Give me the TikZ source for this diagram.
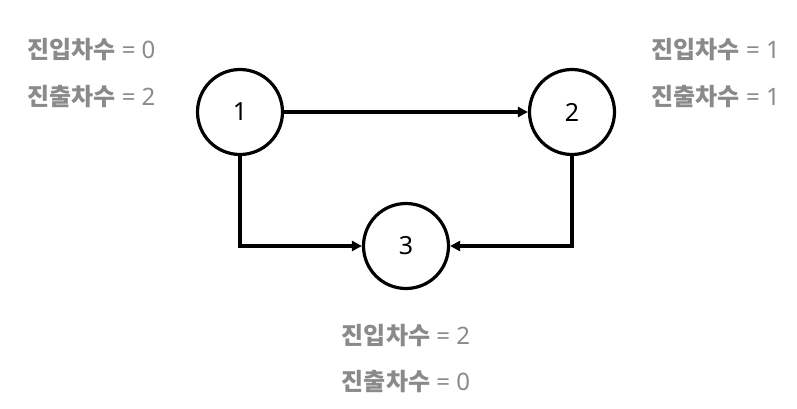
\documentclass[tikz,border=0pt]{standalone}
\usepackage{fontspec}
\setmainfont{Noto Sans}
\newfontfamily\kr{Noto Sans CJK KR}
\usetikzlibrary{arrows.meta}
\definecolor{lbl}{HTML}{8A8A8A}
\newcommand{\degtxt}[2]{{\kr\bfseries #1} = #2}
\begin{document}
\begin{tikzpicture}[x=1pt,y=-1pt,
  vtx/.style={circle,draw=black,line width=3.2pt,minimum size=85pt,inner sep=0pt,font=\fontsize{25}{28}\selectfont},
  edge/.style={line width=3.2pt,-{Triangle[length=10pt,width=10pt]}},
  deg/.style={text=lbl,inner sep=0pt,font=\fontsize{24}{27}\selectfont}]
\useasboundingbox (0,0) rectangle (797,409);
\node[vtx] (n1) at (240,112) {1};
\node[vtx] (n2) at (572,112) {2};
\node[vtx] (n3) at (406,246) {3};
\draw[edge] (n1) -- (n2);
\draw[edge] (n1.south) |- (n3.west);
\draw[edge] (n2.south) |- (n3.east);
\node[deg,anchor=west] (l1) at (27,50) {\degtxt{진입차수}{0}};
\node[deg,anchor=west] (l2) at (27,97) {\degtxt{진출차수}{2}};
\node[deg,anchor=east] (r1) at (780,50) {\degtxt{진입차수}{1}};
\node[deg,anchor=east] (r2) at (780,97) {\degtxt{진출차수}{1}};
\node[deg] (b1) at (406,336) {\degtxt{진입차수}{2}};
\node[deg] (b2) at (406,382) {\degtxt{진출차수}{0}};
\end{tikzpicture}
\end{document}
